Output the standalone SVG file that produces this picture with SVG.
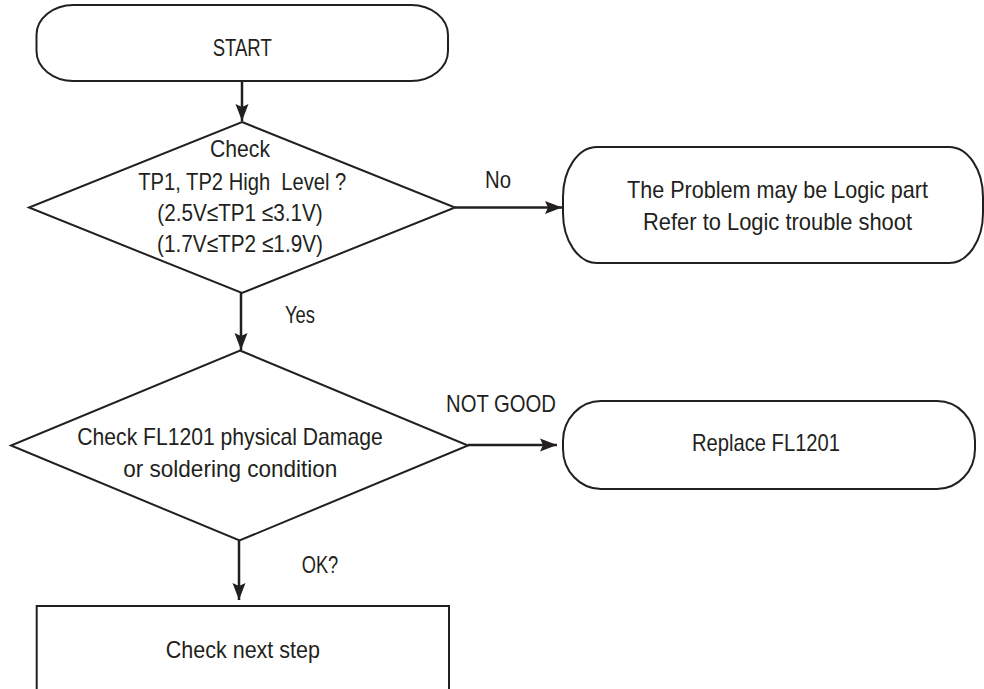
<svg xmlns="http://www.w3.org/2000/svg" width="984" height="689" viewBox="0 0 984 689">
  <style>
    .shape { fill: #ffffff; stroke: #231f20; stroke-width: 2; }
    .conn { fill: none; stroke: #231f20; stroke-width: 2.5; marker-end: url(#arrow); }
    text { font-family: "Liberation Sans", Arial, sans-serif; font-size: 24px; fill: #231f20; }
    .sq { white-space: pre; }
  </style>
  <defs>
    <marker id="arrow" markerUnits="userSpaceOnUse" markerWidth="18" markerHeight="14" refX="17" refY="7" orient="auto">
      <path d="M0,0.5 L17,7 L0,13.5 L3,7 Z" fill="#231f20"/>
    </marker>
  </defs>

  <rect width="984" height="689" fill="#ffffff"/>

  <!-- connectors and their labels -->
  <g id="connectors">
    <line class="conn" x1="242" y1="81" x2="242" y2="121"/>
    <line class="conn" x1="455" y1="207.5" x2="562" y2="207.5"/>
    <line class="conn" x1="241" y1="293" x2="241" y2="350"/>
    <line class="conn" x1="468" y1="445" x2="557" y2="445"/>
    <line class="conn" x1="239" y1="541" x2="239" y2="600"/>
    <text x="485" y="188" textLength="26" lengthAdjust="spacingAndGlyphs">No</text>
    <text x="285" y="323.3" textLength="30" lengthAdjust="spacingAndGlyphs">Yes</text>
    <text x="446" y="411.7" textLength="110" lengthAdjust="spacingAndGlyphs">NOT GOOD</text>
    <text x="301.7" y="573.3" textLength="36.6" lengthAdjust="spacingAndGlyphs">OK?</text>
  </g>

  <g id="start">
    <rect class="shape" x="36.5" y="5" width="411.5" height="76" rx="37" ry="30"/>
    <text x="212.7" y="56" textLength="59" lengthAdjust="spacingAndGlyphs">START</text>
  </g>

  <g id="check-tp">
    <polygon class="shape" points="242,122 455,207.5 242,293 29,207.5"/>
    <text x="210" y="156.7" textLength="60" lengthAdjust="spacingAndGlyphs">Check</text>
    <text class="sq" x="138.3" y="190" textLength="208" lengthAdjust="spacingAndGlyphs">TP1, TP2 High  Level ?</text>
    <text x="157.3" y="220.7" textLength="165.4" lengthAdjust="spacingAndGlyphs">(2.5V≤TP1 ≤3.1V)</text>
    <text x="157" y="251.7" textLength="166" lengthAdjust="spacingAndGlyphs">(1.7V≤TP2 ≤1.9V)</text>
  </g>

  <g id="logic-part">
    <rect class="shape" x="563" y="147" width="420" height="116" rx="34" ry="50"/>
    <text x="627" y="198" textLength="301" lengthAdjust="spacingAndGlyphs">The Problem may be Logic part</text>
    <text x="643" y="230" textLength="269" lengthAdjust="spacingAndGlyphs">Refer to Logic trouble shoot</text>
  </g>

  <g id="check-fl1201">
    <polygon class="shape" points="240,350.5 468,445.5 239.5,540.5 11,445.5"/>
    <text x="77.3" y="445" textLength="305.4" lengthAdjust="spacingAndGlyphs">Check FL1201 physical Damage</text>
    <text x="123.3" y="476.7" textLength="214" lengthAdjust="spacingAndGlyphs">or soldering condition</text>
  </g>

  <g id="replace-fl1201">
    <rect class="shape" x="563" y="401" width="412" height="88" rx="38" ry="40"/>
    <text x="692" y="451" textLength="148" lengthAdjust="spacingAndGlyphs">Replace FL1201</text>
  </g>

  <g id="next-step">
    <rect class="shape" x="36.7" y="606" width="412.3" height="100"/>
    <text x="165.7" y="658.3" textLength="154.3" lengthAdjust="spacingAndGlyphs">Check next step</text>
  </g>
</svg>
